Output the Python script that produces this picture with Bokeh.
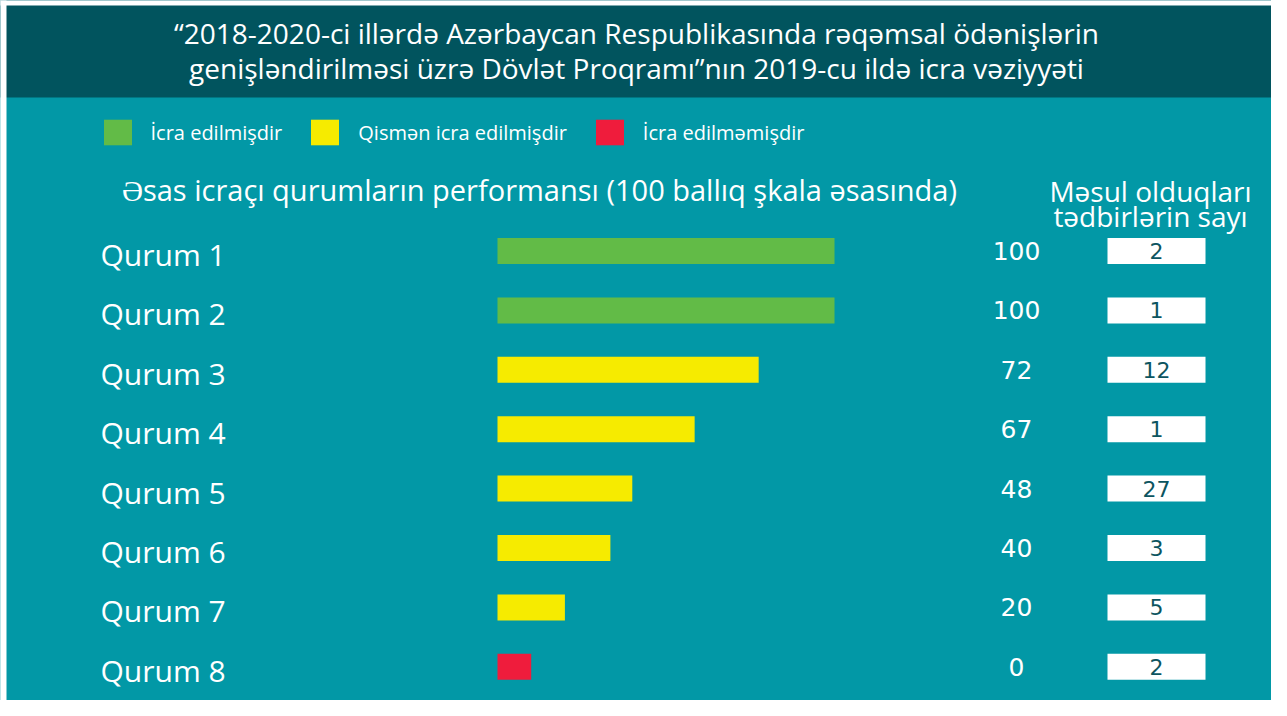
from bokeh.plotting import figure
from bokeh.models import Range1d, ColumnDataSource, Label, BoxAnnotation, Legend, LegendItem
from bokeh.core.properties import value
from bokeh.embed import file_html
from bokeh.resources import INLINE

# ---------------- data ----------------
agencies = ["Qurum 1", "Qurum 2", "Qurum 3", "Qurum 4", "Qurum 5", "Qurum 6", "Qurum 7", "Qurum 8"]
scores = [100, 100, 72, 67, 48, 40, 20, 0]                 # performance (100-point scale), printed values
bar_length = [100, 100, 77.5, 58.5, 40, 33.5, 20, 10]      # bar extents as drawn in the picture
counts = [2, 1, 12, 1, 27, 3, 5, 2]                        # number of responsible measures
status = ["İcra edilmişdir", "İcra edilmişdir", "Qismən icra edilmişdir", "Qismən icra edilmişdir",
          "Qismən icra edilmişdir", "Qismən icra edilmişdir", "Qismən icra edilmişdir", "İcra edilməmişdir"]
status_labels = ["İcra edilmişdir", "Qismən icra edilmişdir", "İcra edilməmişdir"]
status_colors = ["#62bb47", "#f6eb00", "#ef1c3c"]

title_lines = ["“2018-2020-ci illərdə Azərbaycan Respublikasında rəqəmsal ödənişlərin",
               "genişləndirilməsi üzrə Dövlət Proqramı”nın 2019-cu ildə icra vəziyyəti"]
perf_heading = "Əsas icraçı qurumların performansı (100 ballıq şkala əsasında)"
count_heading = ["Məsul olduqları", "tədbirlərin sayı"]

# ---------------- layout ----------------
W, H = 1271, 700
X0, PX_PT = 497, 3.37        # pixel x of score 0, pixels per score point
Y0, ROW = 250.5, 59.4        # pixel y of first row centre, row spacing
LABEL_DY = 3.5 / ROW         # agency names sit slightly lower than their bars

def ux(px):
    return (px - X0) / PX_PT

def uy(py):
    return (py - Y0) / ROW

FONT = value("Open Sans")
FONT_NAME = "Open Sans"
NUM_FONT = value("DejaVu Sans")
HEADER = "#01545e"
BODY = "#0298a6"
DARK_TXT = "#0c5560"

p = figure(width=W, height=H, output_backend="svg", toolbar_location=None,
           x_range=Range1d(ux(0), ux(W)),
           y_range=Range1d(uy(H), uy(0)),
           x_axis_type=None, y_axis_type=None, min_border=0,
           background_fill_color=BODY, border_fill_color=BODY, outline_line_color=None)
p.xgrid.visible = False
p.ygrid.visible = False

# header band and thin white page border of the original image
p.add_layout(BoxAnnotation(left=ux(-10), right=ux(1400), top=uy(-10), bottom=uy(97),
                           fill_color=HEADER, fill_alpha=1, line_alpha=0, level="underlay"))
p.add_layout(BoxAnnotation(left=ux(-10), right=ux(1400), top=uy(-10), bottom=uy(5),
                           fill_color="white", fill_alpha=1, line_alpha=0, level="underlay"))
p.add_layout(BoxAnnotation(left=ux(-10), right=ux(6), top=uy(-10), bottom=uy(800),
                           fill_color="white", fill_alpha=1, line_alpha=0, level="underlay"))

for i, line in enumerate(title_lines):
    p.add_layout(Label(x=ux(636), y=uy(32 + 35 * i), text=line, text_align="center",
                       text_baseline="middle", text_color="white", text_font=FONT_NAME,
                       text_font_size="28px"))

rows = list(range(len(agencies)))
color_map = dict(zip(status_labels, status_colors))
src = ColumnDataSource(dict(
    y=rows, label_y=[r + LABEL_DY for r in rows], agency=agencies,
    score=[str(s) for s in scores], length=bar_length,
    count=[str(c) for c in counts], status=status, color=[color_map[s] for s in status],
    zero=[0] * len(rows),
    lab_x=[ux(100)] * len(rows), score_x=[ux(1016)] * len(rows),
    box_l=[ux(1107)] * len(rows), box_r=[ux(1205)] * len(rows), count_x=[ux(1156)] * len(rows),
))

BAR_H = 26 / ROW
bars = p.hbar(y="y", left="zero", right="length", height=BAR_H, fill_color="color",
              line_color=None, source=src)

p.text(x="lab_x", y="label_y", text="agency", source=src, text_color="white", text_font=FONT,
       text_font_size="30px", text_baseline="middle", text_align="left")
p.text(x="score_x", y="y", text="score", source=src, text_color="white", text_font=NUM_FONT,
       text_font_size="25px", text_baseline="middle", text_align="center")
p.hbar(y="y", left="box_l", right="box_r", height=BAR_H, fill_color="white", line_color=None, source=src)
p.text(x="count_x", y="y", text="count", source=src, text_color=DARK_TXT, text_font=NUM_FONT,
       text_font_size="22px", text_baseline="middle", text_align="center")

# headings
p.add_layout(Label(x=ux(539), y=uy(189), text=perf_heading, text_align="center",
                   text_baseline="middle", text_color="white", text_font=FONT_NAME, text_font_size="29px"))
for i, line in enumerate(count_heading):
    p.add_layout(Label(x=ux(1150), y=uy(190 + 25 * i), text=line, text_align="center",
                       text_baseline="middle", text_color="white", text_font=FONT_NAME,
                       text_font_size="28px"))

# legend (first row of each status supplies the swatch colour)
items = [LegendItem(label=lab, renderers=[bars], index=status.index(lab)) for lab in status_labels]
legend = Legend(items=items, orientation="horizontal",
                location=(103 - 3.5, H - 132 - 16),
                glyph_width=35, glyph_height=32, label_height=32,
                label_standoff=16, spacing=25, padding=0, margin=0,
                border_line_color=None, background_fill_alpha=0,
                label_text_color="white", label_text_font=FONT_NAME,
                label_text_font_size="20px")
p.add_layout(legend)

html = file_html(p, INLINE)
open("out.html", "w").write(html)
